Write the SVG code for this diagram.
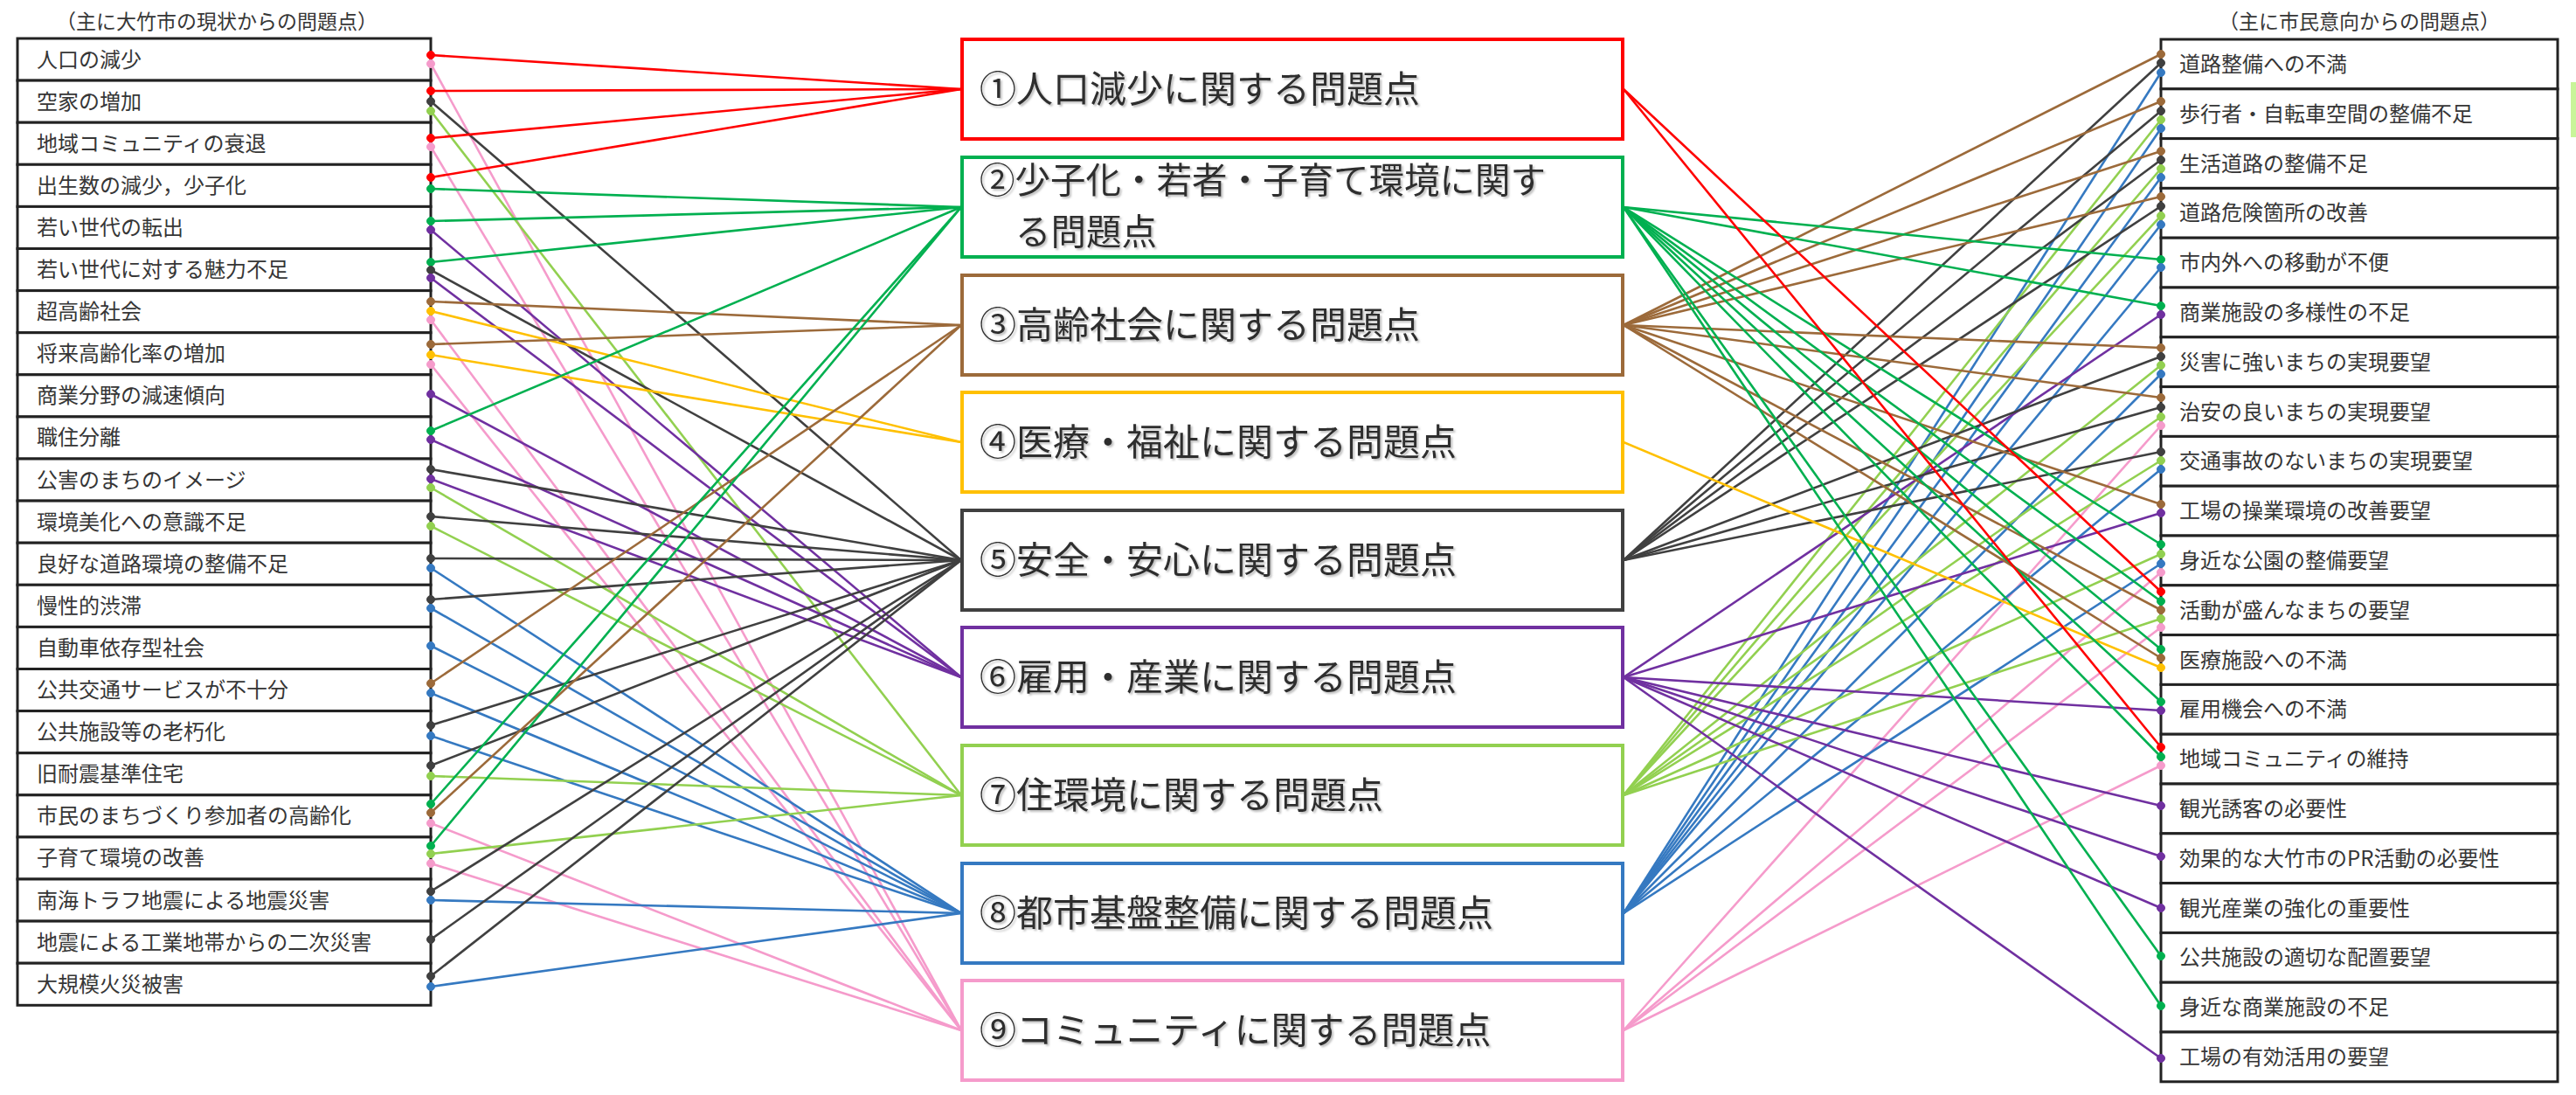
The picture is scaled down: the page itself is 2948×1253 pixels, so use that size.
<svg xmlns="http://www.w3.org/2000/svg" width="2948" height="1253" viewBox="0 0 2948 1253">
<style>
text{font-family:"Noto Sans CJK JP","Noto Sans CJK SC",sans-serif;fill:#363636}
.hd{font-size:23px;text-anchor:middle}
.it{font-size:24px}
.row{fill:#fff;stroke:#222;stroke-width:3}
.box{fill:#fff;stroke-width:4}
.bt{font-size:42px;fill:#2e2e2e;filter:url(#sh)}
.bt2{font-size:40.5px}
#connectors line{stroke-width:2.6;fill:none}
.k1{stroke:#ff0000;fill:#ff0000}
.k2{stroke:#00b050;fill:#00b050}
.k3{stroke:#9c6a3a;fill:#9c6a3a}
.k4{stroke:#ffc000;fill:#ffc000}
.k5{stroke:#404040;fill:#404040}
.k6{stroke:#7030a0;fill:#7030a0}
.k7{stroke:#92d050;fill:#92d050}
.k8{stroke:#3579c1;fill:#3579c1}
.k9{stroke:#f59bcb;fill:#f59bcb}
circle{stroke-width:1}
</style>
<defs>
<filter id="sh" x="-5%" y="-20%" width="110%" height="150%">
<feDropShadow dx="2" dy="2" stdDeviation="1.2" flood-color="#888" flood-opacity="0.55"/>
</filter>
</defs>
<rect width="2948" height="1253" fill="#fff"/>
<rect x="2942" y="94" width="6" height="63" fill="#c8f59a"/>

<text class="hd" x="248" y="33">（主に大竹市の現状からの問題点）</text>
<text class="hd" x="2700" y="33">（主に市民意向からの問題点）</text>

<g id="left-list">
<g id="L1"><rect class="row" x="20" y="44" width="473" height="48.1"/><text class="it" x="42" y="76.5">人口の減少</text></g>
<g id="L2"><rect class="row" x="20" y="92.1" width="473" height="48.1"/><text class="it" x="42" y="124.6">空家の増加</text></g>
<g id="L3"><rect class="row" x="20" y="140.2" width="473" height="48.1"/><text class="it" x="42" y="172.7">地域コミュニティの衰退</text></g>
<g id="L4"><rect class="row" x="20" y="188.3" width="473" height="48.1"/><text class="it" x="42" y="220.8">出生数の減少，少子化</text></g>
<g id="L5"><rect class="row" x="20" y="236.4" width="473" height="48.1"/><text class="it" x="42" y="268.9">若い世代の転出</text></g>
<g id="L6"><rect class="row" x="20" y="284.5" width="473" height="48.1"/><text class="it" x="42" y="317">若い世代に対する魅力不足</text></g>
<g id="L7"><rect class="row" x="20" y="332.6" width="473" height="48.1"/><text class="it" x="42" y="365.1">超高齢社会</text></g>
<g id="L8"><rect class="row" x="20" y="380.7" width="473" height="48.1"/><text class="it" x="42" y="413.2">将来高齢化率の増加</text></g>
<g id="L9"><rect class="row" x="20" y="428.8" width="473" height="48.1"/><text class="it" x="42" y="461.3">商業分野の減速傾向</text></g>
<g id="L10"><rect class="row" x="20" y="476.9" width="473" height="48.1"/><text class="it" x="42" y="509.4">職住分離</text></g>
<g id="L11"><rect class="row" x="20" y="525" width="473" height="48.1"/><text class="it" x="42" y="557.5">公害のまちのイメージ</text></g>
<g id="L12"><rect class="row" x="20" y="573.1" width="473" height="48.1"/><text class="it" x="42" y="605.6">環境美化への意識不足</text></g>
<g id="L13"><rect class="row" x="20" y="621.2" width="473" height="48.1"/><text class="it" x="42" y="653.7">良好な道路環境の整備不足</text></g>
<g id="L14"><rect class="row" x="20" y="669.3" width="473" height="48.1"/><text class="it" x="42" y="701.8">慢性的渋滞</text></g>
<g id="L15"><rect class="row" x="20" y="717.4" width="473" height="48.1"/><text class="it" x="42" y="749.9">自動車依存型社会</text></g>
<g id="L16"><rect class="row" x="20" y="765.5" width="473" height="48.1"/><text class="it" x="42" y="798">公共交通サービスが不十分</text></g>
<g id="L17"><rect class="row" x="20" y="813.6" width="473" height="48.1"/><text class="it" x="42" y="846.1">公共施設等の老朽化</text></g>
<g id="L18"><rect class="row" x="20" y="861.7" width="473" height="48.1"/><text class="it" x="42" y="894.2">旧耐震基準住宅</text></g>
<g id="L19"><rect class="row" x="20" y="909.8" width="473" height="48.1"/><text class="it" x="42" y="942.3">市民のまちづくり参加者の高齢化</text></g>
<g id="L20"><rect class="row" x="20" y="957.9" width="473" height="48.1"/><text class="it" x="42" y="990.4">子育て環境の改善</text></g>
<g id="L21"><rect class="row" x="20" y="1006" width="473" height="48.1"/><text class="it" x="42" y="1038.5">南海トラフ地震による地震災害</text></g>
<g id="L22"><rect class="row" x="20" y="1054.1" width="473" height="48.1"/><text class="it" x="42" y="1086.6">地震による工業地帯からの二次災害</text></g>
<g id="L23"><rect class="row" x="20" y="1102.2" width="473" height="48.1"/><text class="it" x="42" y="1134.7">大規模火災被害</text></g>
</g>

<g id="right-list">
<g id="R1"><rect class="row" x="2473" y="45" width="454" height="56.8"/><text class="it" x="2494" y="82">道路整備への不満</text></g>
<g id="R2"><rect class="row" x="2473" y="101.8" width="454" height="56.8"/><text class="it" x="2494" y="138.8">歩行者・自転車空間の整備不足</text></g>
<g id="R3"><rect class="row" x="2473" y="158.6" width="454" height="56.8"/><text class="it" x="2494" y="195.6">生活道路の整備不足</text></g>
<g id="R4"><rect class="row" x="2473" y="215.4" width="454" height="56.8"/><text class="it" x="2494" y="252.4">道路危険箇所の改善</text></g>
<g id="R5"><rect class="row" x="2473" y="272.2" width="454" height="56.8"/><text class="it" x="2494" y="309.2">市内外への移動が不便</text></g>
<g id="R6"><rect class="row" x="2473" y="329" width="454" height="56.8"/><text class="it" x="2494" y="366">商業施設の多様性の不足</text></g>
<g id="R7"><rect class="row" x="2473" y="385.8" width="454" height="56.8"/><text class="it" x="2494" y="422.8">災害に強いまちの実現要望</text></g>
<g id="R8"><rect class="row" x="2473" y="442.6" width="454" height="56.8"/><text class="it" x="2494" y="479.6">治安の良いまちの実現要望</text></g>
<g id="R9"><rect class="row" x="2473" y="499.4" width="454" height="56.8"/><text class="it" x="2494" y="536.4">交通事故のないまちの実現要望</text></g>
<g id="R10"><rect class="row" x="2473" y="556.2" width="454" height="56.8"/><text class="it" x="2494" y="593.2">工場の操業環境の改善要望</text></g>
<g id="R11"><rect class="row" x="2473" y="613" width="454" height="56.8"/><text class="it" x="2494" y="650">身近な公園の整備要望</text></g>
<g id="R12"><rect class="row" x="2473" y="669.8" width="454" height="56.8"/><text class="it" x="2494" y="706.8">活動が盛んなまちの要望</text></g>
<g id="R13"><rect class="row" x="2473" y="726.6" width="454" height="56.8"/><text class="it" x="2494" y="763.6">医療施設への不満</text></g>
<g id="R14"><rect class="row" x="2473" y="783.4" width="454" height="56.8"/><text class="it" x="2494" y="820.4">雇用機会への不満</text></g>
<g id="R15"><rect class="row" x="2473" y="840.2" width="454" height="56.8"/><text class="it" x="2494" y="877.2">地域コミュニティの維持</text></g>
<g id="R16"><rect class="row" x="2473" y="897" width="454" height="56.8"/><text class="it" x="2494" y="934">観光誘客の必要性</text></g>
<g id="R17"><rect class="row" x="2473" y="953.8" width="454" height="56.8"/><text class="it" x="2494" y="990.8">効果的な大竹市のPR活動の必要性</text></g>
<g id="R18"><rect class="row" x="2473" y="1010.6" width="454" height="56.8"/><text class="it" x="2494" y="1047.6">観光産業の強化の重要性</text></g>
<g id="R19"><rect class="row" x="2473" y="1067.4" width="454" height="56.8"/><text class="it" x="2494" y="1104.4">公共施設の適切な配置要望</text></g>
<g id="R20"><rect class="row" x="2473" y="1124.2" width="454" height="56.8"/><text class="it" x="2494" y="1161.2">身近な商業施設の不足</text></g>
<g id="R21"><rect class="row" x="2473" y="1181" width="454" height="56.8"/><text class="it" x="2494" y="1218">工場の有効活用の要望</text></g>
</g>

<g id="problems">
<g id="P1"><rect class="box" x="1101" y="45" width="756" height="114" stroke="#ff0000"/><text class="bt" x="1121" y="117">①人口減少に関する問題点</text></g>
<g id="P2"><rect class="box" x="1101" y="180" width="756" height="114" stroke="#00b050"/><text class="bt bt2" x="1121" y="221">②少子化・若者・子育て環境に関す</text><text class="bt bt2" x="1162" y="280">る問題点</text></g>
<g id="P3"><rect class="box" x="1101" y="315" width="756" height="114" stroke="#9c6a3a"/><text class="bt" x="1121" y="387">③高齢社会に関する問題点</text></g>
<g id="P4"><rect class="box" x="1101" y="449" width="756" height="114" stroke="#ffc000"/><text class="bt" x="1121" y="521">④医療・福祉に関する問題点</text></g>
<g id="P5"><rect class="box" x="1101" y="584" width="756" height="114" stroke="#404040"/><text class="bt" x="1121" y="656">⑤安全・安心に関する問題点</text></g>
<g id="P6"><rect class="box" x="1101" y="718" width="756" height="114" stroke="#7030a0"/><text class="bt" x="1121" y="790">⑥雇用・産業に関する問題点</text></g>
<g id="P7"><rect class="box" x="1101" y="853" width="756" height="114" stroke="#92d050"/><text class="bt" x="1121" y="925">⑦住環境に関する問題点</text></g>
<g id="P8"><rect class="box" x="1101" y="988" width="756" height="114" stroke="#3579c1"/><text class="bt" x="1121" y="1060">⑧都市基盤整備に関する問題点</text></g>
<g id="P9"><rect class="box" x="1101" y="1122" width="756" height="114" stroke="#f59bcb"/><text class="bt" x="1121" y="1194">⑨コミュニティに関する問題点</text></g>
</g>

<g id="connectors">
<!-- left side -->
<line class="k1" x1="493" y1="63" x2="1100" y2="102"/><circle class="k1" cx="493" cy="63" r="4.5"/>
<line class="k9" x1="493" y1="73" x2="1100" y2="1179"/><circle class="k9" cx="493" cy="73" r="4.5"/>
<line class="k1" x1="493" y1="104" x2="1100" y2="102"/><circle class="k1" cx="493" cy="104" r="4.5"/>
<line class="k5" x1="493" y1="116" x2="1100" y2="641"/><circle class="k5" cx="493" cy="116" r="4.5"/>
<line class="k7" x1="493" y1="127" x2="1100" y2="910"/><circle class="k7" cx="493" cy="127" r="4.5"/>
<line class="k1" x1="493" y1="158" x2="1100" y2="102"/><circle class="k1" cx="493" cy="158" r="4.5"/>
<line class="k9" x1="493" y1="168" x2="1100" y2="1179"/><circle class="k9" cx="493" cy="168" r="4.5"/>
<line class="k1" x1="493" y1="203" x2="1100" y2="102"/><circle class="k1" cx="493" cy="203" r="4.5"/>
<line class="k2" x1="493" y1="216" x2="1100" y2="237"/><circle class="k2" cx="493" cy="216" r="4.5"/>
<line class="k2" x1="493" y1="253" x2="1100" y2="237"/><circle class="k2" cx="493" cy="253" r="4.5"/>
<line class="k6" x1="493" y1="263" x2="1100" y2="775"/><circle class="k6" cx="493" cy="263" r="4.5"/>
<line class="k2" x1="493" y1="300" x2="1100" y2="237"/><circle class="k2" cx="493" cy="300" r="4.5"/>
<line class="k5" x1="493" y1="309" x2="1100" y2="641"/><circle class="k5" cx="493" cy="309" r="4.5"/>
<line class="k6" x1="493" y1="318" x2="1100" y2="775"/><circle class="k6" cx="493" cy="318" r="4.5"/>
<line class="k3" x1="493" y1="345" x2="1100" y2="372"/><circle class="k3" cx="493" cy="345" r="4.5"/>
<line class="k4" x1="493" y1="356" x2="1100" y2="506"/><circle class="k4" cx="493" cy="356" r="4.5"/>
<line class="k9" x1="493" y1="366" x2="1100" y2="1179"/><circle class="k9" cx="493" cy="366" r="4.5"/>
<line class="k3" x1="493" y1="394" x2="1100" y2="372"/><circle class="k3" cx="493" cy="394" r="4.5"/>
<line class="k4" x1="493" y1="406" x2="1100" y2="506"/><circle class="k4" cx="493" cy="406" r="4.5"/>
<line class="k9" x1="493" y1="417" x2="1100" y2="1179"/><circle class="k9" cx="493" cy="417" r="4.5"/>
<line class="k6" x1="493" y1="451" x2="1100" y2="775"/><circle class="k6" cx="493" cy="451" r="4.5"/>
<line class="k2" x1="493" y1="493" x2="1100" y2="237"/><circle class="k2" cx="493" cy="493" r="4.5"/>
<line class="k6" x1="493" y1="503" x2="1100" y2="775"/><circle class="k6" cx="493" cy="503" r="4.5"/>
<line class="k5" x1="493" y1="537" x2="1100" y2="641"/><circle class="k5" cx="493" cy="537" r="4.5"/>
<line class="k6" x1="493" y1="548" x2="1100" y2="775"/><circle class="k6" cx="493" cy="548" r="4.5"/>
<line class="k7" x1="493" y1="558" x2="1100" y2="910"/><circle class="k7" cx="493" cy="558" r="4.5"/>
<line class="k5" x1="493" y1="591" x2="1100" y2="641"/><circle class="k5" cx="493" cy="591" r="4.5"/>
<line class="k7" x1="493" y1="602" x2="1100" y2="910"/><circle class="k7" cx="493" cy="602" r="4.5"/>
<line class="k5" x1="493" y1="639" x2="1100" y2="641"/><circle class="k5" cx="493" cy="639" r="4.5"/>
<line class="k8" x1="493" y1="650" x2="1100" y2="1045"/><circle class="k8" cx="493" cy="650" r="4.5"/>
<line class="k5" x1="493" y1="686" x2="1100" y2="641"/><circle class="k5" cx="493" cy="686" r="4.5"/>
<line class="k8" x1="493" y1="696" x2="1100" y2="1045"/><circle class="k8" cx="493" cy="696" r="4.5"/>
<line class="k8" x1="493" y1="739" x2="1100" y2="1045"/><circle class="k8" cx="493" cy="739" r="4.5"/>
<line class="k3" x1="493" y1="782" x2="1100" y2="372"/><circle class="k3" cx="493" cy="782" r="4.5"/>
<line class="k8" x1="493" y1="793" x2="1100" y2="1045"/><circle class="k8" cx="493" cy="793" r="4.5"/>
<line class="k5" x1="493" y1="830" x2="1100" y2="641"/><circle class="k5" cx="493" cy="830" r="4.5"/>
<line class="k8" x1="493" y1="842" x2="1100" y2="1045"/><circle class="k8" cx="493" cy="842" r="4.5"/>
<line class="k5" x1="493" y1="876" x2="1100" y2="641"/><circle class="k5" cx="493" cy="876" r="4.5"/>
<line class="k7" x1="493" y1="888" x2="1100" y2="910"/><circle class="k7" cx="493" cy="888" r="4.5"/>
<line class="k2" x1="493" y1="920" x2="1100" y2="237"/><circle class="k2" cx="493" cy="920" r="4.5"/>
<line class="k3" x1="493" y1="930" x2="1100" y2="372"/><circle class="k3" cx="493" cy="930" r="4.5"/>
<line class="k9" x1="493" y1="942" x2="1100" y2="1179"/><circle class="k9" cx="493" cy="942" r="4.5"/>
<line class="k2" x1="493" y1="968" x2="1100" y2="237"/><circle class="k2" cx="493" cy="968" r="4.5"/>
<line class="k7" x1="493" y1="977" x2="1100" y2="910"/><circle class="k7" cx="493" cy="977" r="4.5"/>
<line class="k9" x1="493" y1="988" x2="1100" y2="1179"/><circle class="k9" cx="493" cy="988" r="4.5"/>
<line class="k5" x1="493" y1="1020" x2="1100" y2="641"/><circle class="k5" cx="493" cy="1020" r="4.5"/>
<line class="k8" x1="493" y1="1030" x2="1100" y2="1045"/><circle class="k8" cx="493" cy="1030" r="4.5"/>
<line class="k5" x1="493" y1="1075" x2="1100" y2="641"/><circle class="k5" cx="493" cy="1075" r="4.5"/>
<line class="k5" x1="493" y1="1117" x2="1100" y2="641"/><circle class="k5" cx="493" cy="1117" r="4.5"/>
<line class="k8" x1="493" y1="1129" x2="1100" y2="1045"/><circle class="k8" cx="493" cy="1129" r="4.5"/>
<!-- right side -->
<line class="k3" x1="1858" y1="372" x2="2473" y2="62"/><circle class="k3" cx="2473" cy="62" r="4.5"/>
<line class="k5" x1="1858" y1="641" x2="2473" y2="72"/><circle class="k5" cx="2473" cy="72" r="4.5"/>
<line class="k8" x1="1858" y1="1045" x2="2473" y2="83"/><circle class="k8" cx="2473" cy="83" r="4.5"/>
<line class="k3" x1="1858" y1="372" x2="2473" y2="116"/><circle class="k3" cx="2473" cy="116" r="4.5"/>
<line class="k5" x1="1858" y1="641" x2="2473" y2="127"/><circle class="k5" cx="2473" cy="127" r="4.5"/>
<line class="k7" x1="1858" y1="910" x2="2473" y2="137"/><circle class="k7" cx="2473" cy="137" r="4.5"/>
<line class="k8" x1="1858" y1="1045" x2="2473" y2="147"/><circle class="k8" cx="2473" cy="147" r="4.5"/>
<line class="k3" x1="1858" y1="372" x2="2473" y2="173"/><circle class="k3" cx="2473" cy="173" r="4.5"/>
<line class="k5" x1="1858" y1="641" x2="2473" y2="183"/><circle class="k5" cx="2473" cy="183" r="4.5"/>
<line class="k7" x1="1858" y1="910" x2="2473" y2="193"/><circle class="k7" cx="2473" cy="193" r="4.5"/>
<line class="k8" x1="1858" y1="1045" x2="2473" y2="203"/><circle class="k8" cx="2473" cy="203" r="4.5"/>
<line class="k3" x1="1858" y1="372" x2="2473" y2="225"/><circle class="k3" cx="2473" cy="225" r="4.5"/>
<line class="k5" x1="1858" y1="641" x2="2473" y2="236"/><circle class="k5" cx="2473" cy="236" r="4.5"/>
<line class="k7" x1="1858" y1="910" x2="2473" y2="247"/><circle class="k7" cx="2473" cy="247" r="4.5"/>
<line class="k8" x1="1858" y1="1045" x2="2473" y2="257"/><circle class="k8" cx="2473" cy="257" r="4.5"/>
<line class="k2" x1="1858" y1="237" x2="2473" y2="297"/><circle class="k2" cx="2473" cy="297" r="4.5"/>
<line class="k8" x1="1858" y1="1045" x2="2473" y2="306"/><circle class="k8" cx="2473" cy="306" r="4.5"/>
<line class="k2" x1="1858" y1="237" x2="2473" y2="350"/><circle class="k2" cx="2473" cy="350" r="4.5"/>
<line class="k6" x1="1858" y1="775" x2="2473" y2="360"/><circle class="k6" cx="2473" cy="360" r="4.5"/>
<line class="k3" x1="1858" y1="372" x2="2473" y2="398"/><circle class="k3" cx="2473" cy="398" r="4.5"/>
<line class="k5" x1="1858" y1="641" x2="2473" y2="408"/><circle class="k5" cx="2473" cy="408" r="4.5"/>
<line class="k7" x1="1858" y1="910" x2="2473" y2="418"/><circle class="k7" cx="2473" cy="418" r="4.5"/>
<line class="k8" x1="1858" y1="1045" x2="2473" y2="428"/><circle class="k8" cx="2473" cy="428" r="4.5"/>
<line class="k3" x1="1858" y1="372" x2="2473" y2="455"/><circle class="k3" cx="2473" cy="455" r="4.5"/>
<line class="k5" x1="1858" y1="641" x2="2473" y2="466"/><circle class="k5" cx="2473" cy="466" r="4.5"/>
<line class="k7" x1="1858" y1="910" x2="2473" y2="477"/><circle class="k7" cx="2473" cy="477" r="4.5"/>
<line class="k9" x1="1858" y1="1179" x2="2473" y2="487"/><circle class="k9" cx="2473" cy="487" r="4.5"/>
<line class="k5" x1="1858" y1="641" x2="2473" y2="517"/><circle class="k5" cx="2473" cy="517" r="4.5"/>
<line class="k7" x1="1858" y1="910" x2="2473" y2="527"/><circle class="k7" cx="2473" cy="527" r="4.5"/>
<line class="k8" x1="1858" y1="1045" x2="2473" y2="537"/><circle class="k8" cx="2473" cy="537" r="4.5"/>
<line class="k3" x1="1858" y1="372" x2="2473" y2="577"/><circle class="k3" cx="2473" cy="577" r="4.5"/>
<line class="k6" x1="1858" y1="775" x2="2473" y2="587"/><circle class="k6" cx="2473" cy="587" r="4.5"/>
<line class="k2" x1="1858" y1="237" x2="2473" y2="623"/><circle class="k2" cx="2473" cy="623" r="4.5"/>
<line class="k7" x1="1858" y1="910" x2="2473" y2="634"/><circle class="k7" cx="2473" cy="634" r="4.5"/>
<line class="k8" x1="1858" y1="1045" x2="2473" y2="645"/><circle class="k8" cx="2473" cy="645" r="4.5"/>
<line class="k9" x1="1858" y1="1179" x2="2473" y2="655"/><circle class="k9" cx="2473" cy="655" r="4.5"/>
<line class="k1" x1="1858" y1="102" x2="2473" y2="677"/><circle class="k1" cx="2473" cy="677" r="4.5"/>
<line class="k2" x1="1858" y1="237" x2="2473" y2="688"/><circle class="k2" cx="2473" cy="688" r="4.5"/>
<line class="k3" x1="1858" y1="372" x2="2473" y2="698"/><circle class="k3" cx="2473" cy="698" r="4.5"/>
<line class="k7" x1="1858" y1="910" x2="2473" y2="708"/><circle class="k7" cx="2473" cy="708" r="4.5"/>
<line class="k9" x1="1858" y1="1179" x2="2473" y2="718"/><circle class="k9" cx="2473" cy="718" r="4.5"/>
<line class="k2" x1="1858" y1="237" x2="2473" y2="743"/><circle class="k2" cx="2473" cy="743" r="4.5"/>
<line class="k3" x1="1858" y1="372" x2="2473" y2="753"/><circle class="k3" cx="2473" cy="753" r="4.5"/>
<line class="k4" x1="1858" y1="506" x2="2473" y2="764"/><circle class="k4" cx="2473" cy="764" r="4.5"/>
<line class="k2" x1="1858" y1="237" x2="2473" y2="803"/><circle class="k2" cx="2473" cy="803" r="4.5"/>
<line class="k6" x1="1858" y1="775" x2="2473" y2="813"/><circle class="k6" cx="2473" cy="813" r="4.5"/>
<line class="k1" x1="1858" y1="102" x2="2473" y2="855"/><circle class="k1" cx="2473" cy="855" r="4.5"/>
<line class="k2" x1="1858" y1="237" x2="2473" y2="866"/><circle class="k2" cx="2473" cy="866" r="4.5"/>
<line class="k9" x1="1858" y1="1179" x2="2473" y2="876"/><circle class="k9" cx="2473" cy="876" r="4.5"/>
<line class="k6" x1="1858" y1="775" x2="2473" y2="922"/><circle class="k6" cx="2473" cy="922" r="4.5"/>
<line class="k6" x1="1858" y1="775" x2="2473" y2="980"/><circle class="k6" cx="2473" cy="980" r="4.5"/>
<line class="k6" x1="1858" y1="775" x2="2473" y2="1039"/><circle class="k6" cx="2473" cy="1039" r="4.5"/>
<line class="k2" x1="1858" y1="237" x2="2473" y2="1094"/><circle class="k2" cx="2473" cy="1094" r="4.5"/>
<line class="k2" x1="1858" y1="237" x2="2473" y2="1151"/><circle class="k2" cx="2473" cy="1151" r="4.5"/>
<line class="k6" x1="1858" y1="775" x2="2473" y2="1211"/><circle class="k6" cx="2473" cy="1211" r="4.5"/>
</g>
</svg>
